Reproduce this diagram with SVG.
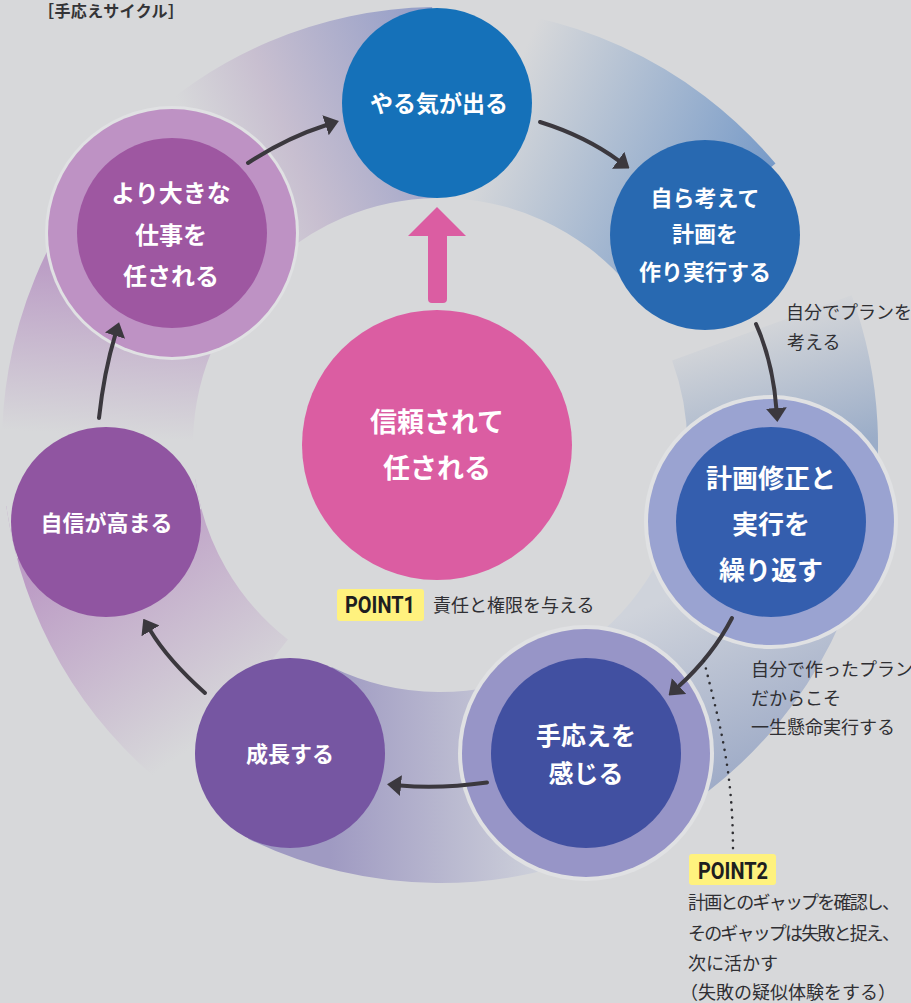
<svg xmlns="http://www.w3.org/2000/svg" width="911" height="1003" viewBox="0 0 911 1003">
<defs>
<style>
.lbl{font-family:"Noto Sans CJK JP","Noto Sans",sans-serif;font-weight:700;fill:#ffffff;text-anchor:middle}
.ann{font-family:"Noto Sans CJK JP","Noto Sans",sans-serif;font-weight:400;fill:#2f2f33;font-size:18px}
.pt{font-family:Roboto,"Liberation Sans",sans-serif;font-weight:700;fill:#1e1e20;font-size:23px}
.arr{fill:none;stroke:#3b383e;stroke-width:4;stroke-linecap:round;marker-end:url(#ah)}
.halo-b{fill:#e0e1e3}
</style>
<marker id="ah" markerUnits="userSpaceOnUse" markerWidth="14" markerHeight="22" viewBox="0 0 14 22" refX="1" refY="11" orient="auto">
<path d="M0,0.5 L14,11 L0,21.5 Z" fill="#3b383e"/>
</marker>
<linearGradient id="g1" gradientUnits="userSpaceOnUse" x1="185" y1="120" x2="420" y2="30">
<stop offset="0" stop-color="#d7d8da"/><stop offset="0.35" stop-color="#c8bfd0"/><stop offset="1" stop-color="#97a0c8"/>
</linearGradient>
<linearGradient id="g2" gradientUnits="userSpaceOnUse" x1="520" y1="60" x2="770" y2="170">
<stop offset="0" stop-color="#d7d8da"/><stop offset="1" stop-color="#789bc8"/>
</linearGradient>
<linearGradient id="g3" gradientUnits="userSpaceOnUse" x1="790" y1="305" x2="835" y2="450">
<stop offset="0" stop-color="#d7d8da"/><stop offset="1" stop-color="#9badc8"/>
</linearGradient>
<linearGradient id="g4" gradientUnits="userSpaceOnUse" x1="640" y1="610" x2="720" y2="790">
<stop offset="0" stop-color="#cfd3db"/><stop offset="1" stop-color="#9eabc7"/>
</linearGradient>
<linearGradient id="g5" gradientUnits="userSpaceOnUse" x1="330" y1="760" x2="540" y2="760">
<stop offset="0" stop-color="#9f9ac2"/><stop offset="1" stop-color="#cdd0da"/>
</linearGradient>
<linearGradient id="g6" gradientUnits="userSpaceOnUse" x1="30" y1="580" x2="160" y2="770">
<stop offset="0" stop-color="#bc9cc5"/><stop offset="1" stop-color="#d7d8da"/>
</linearGradient>
<linearGradient id="g7" gradientUnits="userSpaceOnUse" x1="90" y1="435" x2="100" y2="270">
<stop offset="0" stop-color="#d7d8da"/><stop offset="1" stop-color="#bc9fc6"/>
</linearGradient>
</defs>
<rect x="0" y="0" width="911" height="1003" fill="#d7d8da"/>

<g id="ring">
<path d="M130.3,135.3 A438,438 0 0 1 432.4,7.1 L435.7,198 A247,247 0 0 0 265.3,270.3 Z" fill="url(#g1)"/>
<path d="M432.4,7.1 A438,438 0 0 1 775.5,163.5 L629.2,286.2 A247,247 0 0 0 435.7,198 Z" fill="url(#g2)"/>
<path d="M851.6,295.2 A438,438 0 0 1 865,551 L679.7,504.8 A247,247 0 0 0 672.1,360.5 Z" fill="url(#g3)"/>
<path d="M865,551 A438,438 0 0 1 625.1,842 L544.4,668.9 A247,247 0 0 0 679.7,504.8 Z" fill="url(#g4)"/>
<path d="M625.1,842 A438,438 0 0 1 248,838.7 L331.7,667 A247,247 0 0 0 544.4,668.9 Z" fill="url(#g5)"/>
<path d="M170.3,790.1 A438,438 0 0 1 6.3,506 L195.4,479.4 A247,247 0 0 0 287.9,639.6 Z" fill="url(#g6)"/>
<path d="M16.9,558.4 A438,438 0 0 1 81.2,193.8 L237.7,303.3 A247,247 0 0 0 201.4,508.9 Z" fill="url(#g7)"/>
</g>

<text x="38" y="17" font-family="Noto Sans CJK JP, sans-serif" font-weight="700" font-size="16" fill="#333336" textLength="146" lengthAdjust="spacing">［手応えサイクル］</text>

<g id="node-center">
<path d="M437,207 L466,236 L447,236 L447,299 Q447,303 443,303 L432,303 Q428,303 428,299 L428,236 L408,236 Z" fill="#db5da2"/>
<circle cx="437" cy="445" r="135" fill="#db5da2"/>
<text class="lbl" x="437" y="432" font-size="27">信頼されて</text>
<text class="lbl" x="437" y="478" font-size="27">任される</text>
</g>

<g id="node-yaruki">
<circle cx="437" cy="103" r="95" fill="#1571b9"/>
<text class="lbl" x="439" y="112" font-size="23">やる気が出る</text>
</g>

<g id="node-mizukara">
<circle cx="705" cy="235" r="95" fill="#2869b1"/>
<text class="lbl" x="705" y="206" font-size="22">自ら考えて</text>
<text class="lbl" x="705" y="242" font-size="22">計画を</text>
<text class="lbl" x="705" y="280" font-size="22">作り実行する</text>
</g>

<g id="node-keikaku">
<circle class="halo-b" cx="771" cy="522" r="127"/>
<circle cx="771" cy="522" r="123" fill="#9aa3d1"/>
<circle cx="771" cy="522" r="95" fill="#345eae"/>
<text class="lbl" x="771" y="488" font-size="26">計画修正と</text>
<text class="lbl" x="771" y="534" font-size="26">実行を</text>
<text class="lbl" x="771" y="580" font-size="26">繰り返す</text>
</g>

<g id="node-tegotae">
<circle class="halo-b" cx="586" cy="753" r="128"/>
<circle cx="586" cy="753" r="124" fill="#9795c7"/>
<circle cx="586" cy="753" r="95" fill="#4150a1"/>
<text class="lbl" x="586" y="744.5" font-size="25">手応えを</text>
<text class="lbl" x="586" y="782.5" font-size="25">感じる</text>
</g>

<g id="node-seicho">
<circle cx="290" cy="753" r="95" fill="#7656a2"/>
<text class="lbl" x="290" y="761.5" font-size="22">成長する</text>
</g>

<g id="node-jishin">
<circle cx="106" cy="522" r="95" fill="#9055a1"/>
<text class="lbl" x="106.5" y="530.5" font-size="22">自信が高まる</text>
</g>

<g id="node-shigoto">
<circle class="halo-b" cx="172" cy="233" r="127"/>
<circle cx="172" cy="233" r="124" fill="#be92c4"/>
<circle cx="172" cy="233" r="95" fill="#9e57a1"/>
<text class="lbl" x="171" y="202" font-size="24">より大きな</text>
<text class="lbl" x="171" y="244" font-size="24">仕事を</text>
<text class="lbl" x="171" y="285" font-size="24">任される</text>
</g>

<g id="connectors">
<path class="arr" d="M248,163 Q286,138 326.5,125"/>
<path class="arr" d="M540,122 Q585,136 619,160.8"/>
<path class="arr" d="M756,324 Q773,362 776.4,409"/>
<path class="arr" d="M732,618 Q713,655 678.2,686.8"/>
<path class="arr" d="M487,782.5 Q440,789 400,785.5"/>
<path class="arr" d="M205,693 Q168,660 150,630"/>
<path class="arr" d="M99,418 Q104,372 115.3,334.7"/>
<path d="M704,661 C720,725 733,770 733,851" fill="none" stroke="#2f2f33" stroke-width="2.6" stroke-linecap="round" stroke-dasharray="0 7.6"/>
</g>

<g id="annotations">
<text class="ann" x="786" y="319" font-size="17">自分でプランを</text>
<text class="ann" x="787" y="349">考える</text>
<rect x="337" y="589" width="87" height="32" rx="3" fill="#fff27e"/>
<text class="pt" x="345" y="613" textLength="70" lengthAdjust="spacingAndGlyphs">POINT1</text>
<text class="ann" x="433" y="612">責任と権限を与える</text>
<text class="ann" x="751" y="675.5">自分で作ったプラン</text>
<text class="ann" x="751" y="705">だからこそ</text>
<text class="ann" x="751" y="734">一生懸命実行する</text>
<rect x="689" y="854" width="87" height="31" rx="3" fill="#fff27e"/>
<text class="pt" x="698" y="879" textLength="70" lengthAdjust="spacingAndGlyphs">POINT2</text>
<text class="ann" x="688" y="909" font-size="16.6" textLength="212" lengthAdjust="spacing">計画とのギャップを確認し、</text>
<text class="ann" x="688" y="940" font-size="16.6" textLength="212" lengthAdjust="spacing">そのギャップは失敗と捉え、</text>
<text class="ann" x="688" y="970" font-size="16.6">次に活かす</text>
<text class="ann" x="680" y="999" font-size="18">（失敗の疑似体験をする）</text>
</g>
</svg>
